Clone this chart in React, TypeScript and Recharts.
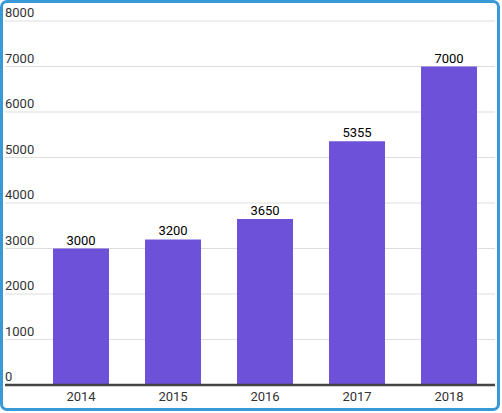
import React from "react";
import { BarChart, Bar, XAxis, YAxis, CartesianGrid, LabelList } from "recharts";

// ─── Data ─────────────────────────────────────────────────────────────────────
const years = ["2014", "2015", "2016", "2017", "2018"];
const values = [3000, 3200, 3650, 5355, 7000];
const yTicks = [0, 1000, 2000, 3000, 4000, 5000, 6000, 7000, 8000];

const data = years.map((year, i) => ({ year, value: values[i] }));

const FONT = "Roboto, 'Noto Sans', sans-serif";

// Y labels sit inside the plot, left-aligned, just above each gridline
const renderYTick = (props: any) => {
  const { y, payload } = props;
  return (
    <text x={2} y={y - 4} fill="#333" fontSize={13} fontFamily={FONT} textAnchor="start">
      {payload.value}
    </text>
  );
};

const App = () => (
  <div>
    <style>{`body{margin:0}`}</style>
    <div
      style={{
        width: 500,
        height: 411,
        border: "3px solid #3799d6",
        borderRadius: 7,
        boxSizing: "border-box",
        background: "#fff",
      }}
    >
      <BarChart
        width={494}
        height={405}
        data={data}
        margin={{ top: 18, right: 2, left: 2, bottom: 3 }}
      >
        <CartesianGrid stroke="#dddddd" vertical={false} />
        <XAxis
          dataKey="year"
          padding={{ left: 30, right: 0 }}
          axisLine={{ stroke: "#444", strokeWidth: 2.5 }}
          tickLine={false}
          tickSize={6}
          tickMargin={1}
          height={20}
          tick={{ fill: "#333", fontSize: 13, fontFamily: FONT }}
        />
        <YAxis
          mirror
          width={40}
          domain={[0, 8000]}
          ticks={yTicks}
          interval={0}
          axisLine={false}
          tickLine={false}
          tick={renderYTick}
        />
        <Bar dataKey="value" fill="#6d52d9" barSize={56} isAnimationActive={false}>
          <LabelList
            dataKey="value"
            position="top"
            offset={4}
            fill="#000"
            fontSize={13}
            fontFamily={FONT}
          />
        </Bar>
      </BarChart>
    </div>
  </div>
);

export default App;
